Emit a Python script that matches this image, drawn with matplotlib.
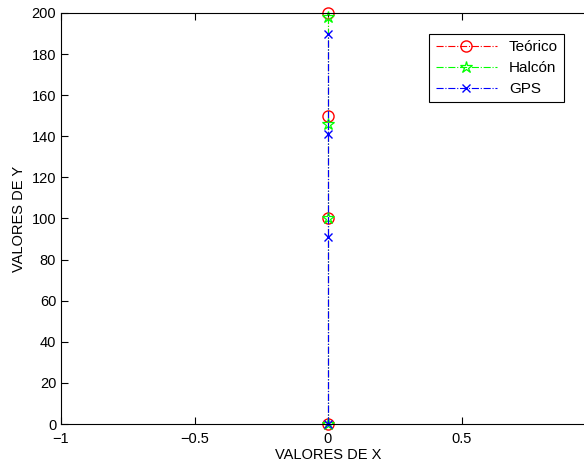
import matplotlib.pyplot as plt

plt.rcParams['font.family'] = ['Liberation Sans', 'DejaVu Sans']

x_teo = [0, 0, 0, 0]
y_teo = [0, 100, 150, 200]

x_hal = [0, 0, 0, 0]
y_hal = [0, 100, 146, 198]

x_gps = [0, 0, 0, 0]
y_gps = [0, 91, 141, 190]

fig = plt.figure(figsize=(5.84, 4.68), dpi=100)
ax = fig.add_axes([61/584, 44/468, 534/584, 411/468])

ax.plot(x_teo, y_teo, color='red', linestyle='-.', linewidth=0.8,
        marker='o', markersize=8, markerfacecolor='none', label='Teórico', clip_on=False)
ax.plot(x_hal, y_hal, color='#00ff00', linestyle='-.', linewidth=0.8,
        marker='*', markersize=9, markerfacecolor='none', markeredgewidth=0.9,
        label='Halcón', clip_on=False)
ax.plot(x_gps, y_gps, color='blue', linestyle='-.', linewidth=0.8,
        marker='x', markersize=6, label='GPS', clip_on=False)

ax.set_xlim(-1, 1)
ax.set_ylim(0, 200)
ax.set_xticks([-1, -0.5, 0, 0.5])
ax.set_xticklabels(['\u22121', '\u22120.5', '0', '0.5'])
ax.set_yticks(range(0, 201, 20))
ax.tick_params(direction='in', top=True, right=True, labelsize=10.5, length=5)
ax.tick_params(axis='x', pad=6)
ax.set_xlabel('VALORES DE X', fontsize=10.5, labelpad=1)
ax.set_ylabel('VALORES DE Y', fontsize=10.5)

leg = ax.legend(loc='upper right', bbox_to_anchor=(564/584, 1 - 34/468),
                bbox_transform=fig.transFigure, fancybox=False, edgecolor='black',
                framealpha=1, fontsize=11, borderaxespad=0, handlelength=4,
                labelspacing=0.45)
leg.get_frame().set_linewidth(0.8)

fig.savefig('out.png', dpi=100)
